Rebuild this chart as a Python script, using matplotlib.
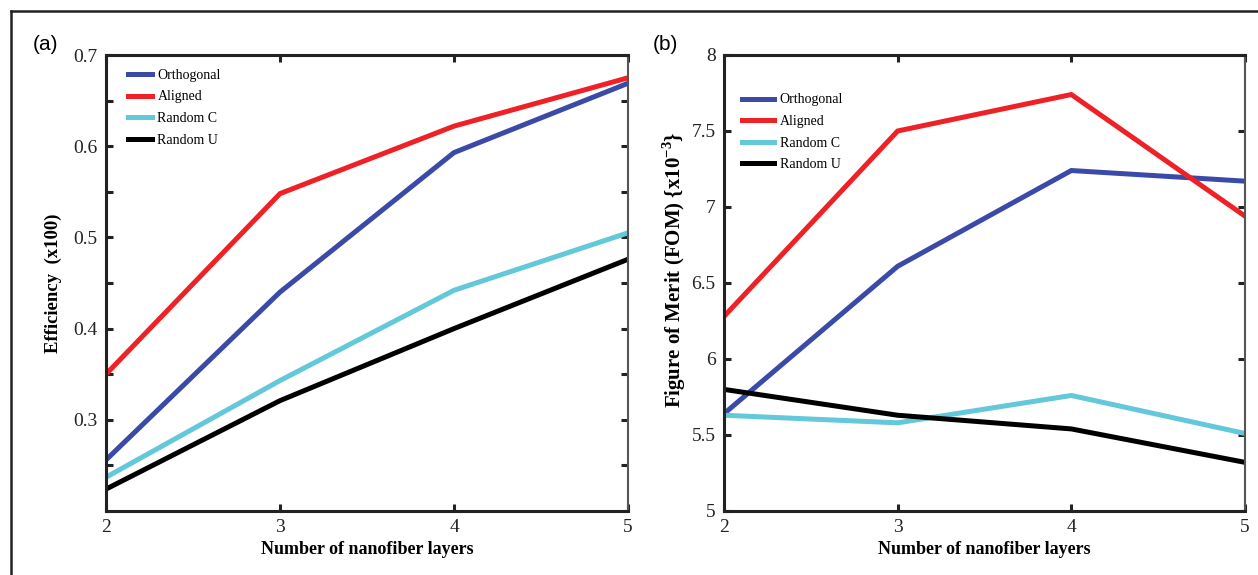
import numpy as np
import matplotlib.pyplot as plt
from matplotlib.lines import Line2D

# data
layers = [2, 3, 4, 5]
series_names = ['Orthogonal', 'Aligned', 'Random C', 'Random U']
series_colors = ['#3a4aa6', '#ee2226', '#62c8da', '#000000']

eff_orthogonal = [0.256, 0.440, 0.593, 0.669]
eff_aligned = [0.350, 0.548, 0.622, 0.675]
eff_random_c = [0.237, 0.343, 0.442, 0.505]
eff_random_u = [0.224, 0.321, 0.400, 0.476]

fom_orthogonal = [5.64, 6.61, 7.24, 7.17]
fom_aligned = [6.28, 7.50, 7.74, 6.94]
fom_random_c = [5.63, 5.58, 5.76, 5.51]
fom_random_u = [5.80, 5.63, 5.54, 5.32]

eff_ticks = [0.2, 0.25, 0.3, 0.35, 0.4, 0.45, 0.5, 0.55, 0.6, 0.65, 0.7]
eff_ticklabels = ['', '', '0.3', '', '0.4', '', '0.5', '', '0.6', '', '0.7']
fom_ticks = [5, 5.5, 6, 6.5, 7, 7.5, 8]
fom_ticklabels = ['5', '5.5', '6', '6.5', '7', '7.5', '8']

SERIF = ['Liberation Serif', 'DejaVu Serif']
plt.rcParams['font.family'] = SERIF

fig = plt.figure(figsize=(12.58, 5.75), dpi=100)
fig.patch.set_facecolor('white')

# outer frame (top and left only are visible in the reference)
fig.add_artist(Line2D([11 / 1258, 1.0], [1 - 11 / 575, 1 - 11 / 575],
                      transform=fig.transFigure, color='#222222', linewidth=1.8))
fig.add_artist(Line2D([11 / 1258, 11 / 1258], [0.0, 1 - 11 / 575],
                      transform=fig.transFigure, color='#222222', linewidth=1.8))

ax_a = fig.add_axes([106 / 1258, 1 - 511 / 575, (628 - 106) / 1258, 456 / 575])
ax_b = fig.add_axes([724 / 1258, 1 - 511 / 575, (1245 - 724) / 1258, 456 / 575])


def style_axes(ax, yticks, yticklabels, ylim):
    ax.set_xlim(2, 5)
    ax.set_ylim(*ylim)
    ax.set_xticks(layers)
    ax.set_xticklabels([str(v) for v in layers])
    ax.set_yticks(yticks)
    ax.set_yticklabels(yticklabels)
    ax.tick_params(direction='in', length=5, width=2.2, labelsize=14,
                   top=True, right=True, pad=6, colors='#222222')
    for sp in ax.spines.values():
        sp.set_linewidth(2.2)
        sp.set_color('#222222')
    ax.spines['right'].set_linewidth(1.5)
    ax.spines['right'].set_color('#555555')
    ax.set_xlabel('Number of nanofiber layers', fontsize=13, fontweight='bold',
                  labelpad=3)


eff_data = [eff_orthogonal, eff_aligned, eff_random_c, eff_random_u]
fom_data = [fom_orthogonal, fom_aligned, fom_random_c, fom_random_u]

for name, color, vals in zip(series_names, series_colors, eff_data):
    ax_a.plot(layers, vals, color=color, linewidth=3.6, label=name,
              solid_joinstyle='miter')
for name, color, vals in zip(series_names, series_colors, fom_data):
    ax_b.plot(layers, vals, color=color, linewidth=3.6, label=name,
              solid_joinstyle='miter')

style_axes(ax_a, eff_ticks, eff_ticklabels, (0.2, 0.7))
style_axes(ax_b, fom_ticks, fom_ticklabels, (5, 8))

ax_a.set_ylabel('Efficiency  (x100)', fontsize=13.5, fontweight='bold', labelpad=8)
ax_b.set_ylabel('Figure of Merit (FOM) {x10$^{\\mathregular{-3}}$}', fontsize=15,
                fontweight='bold')
# the FOM label sits a little above the axis centre in the reference
ax_b.yaxis.set_label_coords(-0.07, 0.53)

leg_kw = dict(frameon=False, fontsize=10, handletextpad=0.4,
              labelspacing=0.62, borderaxespad=0)
ax_a.legend(loc='upper left', bbox_to_anchor=(0.032, 0.982), handlelength=1.7,
            **leg_kw)
ax_b.legend(loc='upper left', bbox_to_anchor=(0.024, 0.928), handlelength=2.3,
            **leg_kw)

fig.text(33 / 1258, 1 - 45 / 575, '(a)', fontsize=15, family=['Liberation Sans'],
         ha='left', va='center')
fig.text(653 / 1258, 1 - 45 / 575, '(b)', fontsize=15, family=['Liberation Sans'],
         ha='left', va='center')

fig.savefig('out.png', dpi=100, facecolor='white')
